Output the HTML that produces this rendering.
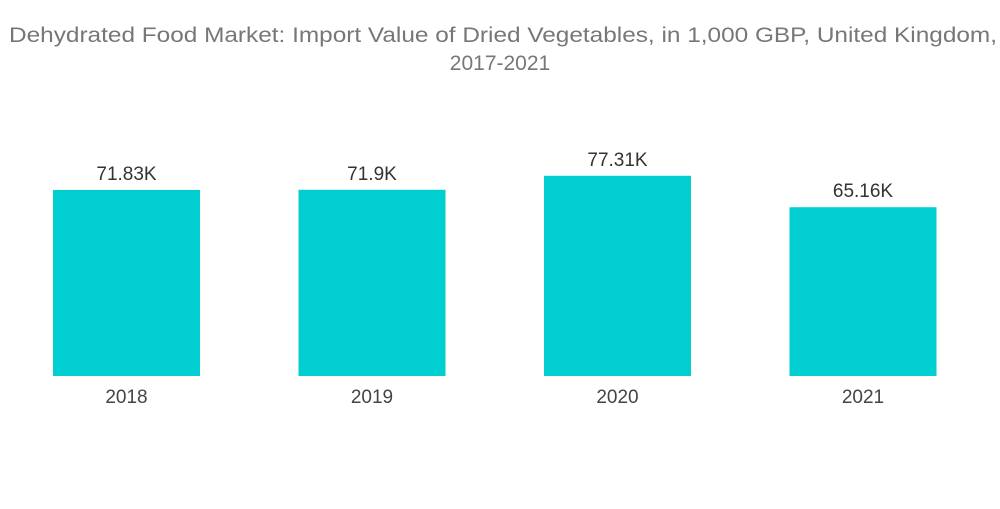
<!DOCTYPE html>
<html><head><meta charset="utf-8"><style>
body{margin:0;background:#fff;width:1000px;height:504px;overflow:hidden;font-family:"Liberation Sans",sans-serif}
</style></head><body>
<svg width="1000" height="504">
<text x="503" y="42" text-anchor="middle" font-size="21" fill="#777" textLength="988" lengthAdjust="spacingAndGlyphs">Dehydrated Food Market: Import Value of Dried Vegetables, in 1,000 GBP, United Kingdom,</text>
<text x="500" y="70" text-anchor="middle" font-size="21" fill="#777">2017-2021</text>
<g id="bars"></g>
</svg>
<script>
const categories=["2018","2019","2020","2021"];
const values=[71.83,71.9,77.31,65.16];
const labels=["71.83K","71.9K","77.31K","65.16K"];
const base=376, pxPer=2.59, left=53, step=245.5, bw=147;
const y=v=>base-v*pxPer;
const g=document.getElementById('bars');
const ns="http://www.w3.org/2000/svg";
categories.forEach((c,i)=>{
  const x=left+i*step;
  const r=document.createElementNS(ns,'rect');
  r.setAttribute('x',x);r.setAttribute('y',y(values[i]));r.setAttribute('width',bw);r.setAttribute('height',base-y(values[i]));r.setAttribute('fill','#00CED1');
  
  
  g.appendChild(r);
  const t=document.createElementNS(ns,'text');
  t.setAttribute('x',x+bw/2);t.setAttribute('y',y(values[i])-10);t.setAttribute('text-anchor','middle');t.setAttribute('font-size','19');t.setAttribute('fill','#333');
  t.textContent=labels[i];
  
  
  g.appendChild(t);
  const a=document.createElementNS(ns,'text');
  a.setAttribute('x',x+bw/2);a.setAttribute('y',403);a.setAttribute('text-anchor','middle');a.setAttribute('font-size','19');a.setAttribute('fill','#444');
  a.textContent=c;
  
  
  g.appendChild(a);
});
</script>
</body></html>
